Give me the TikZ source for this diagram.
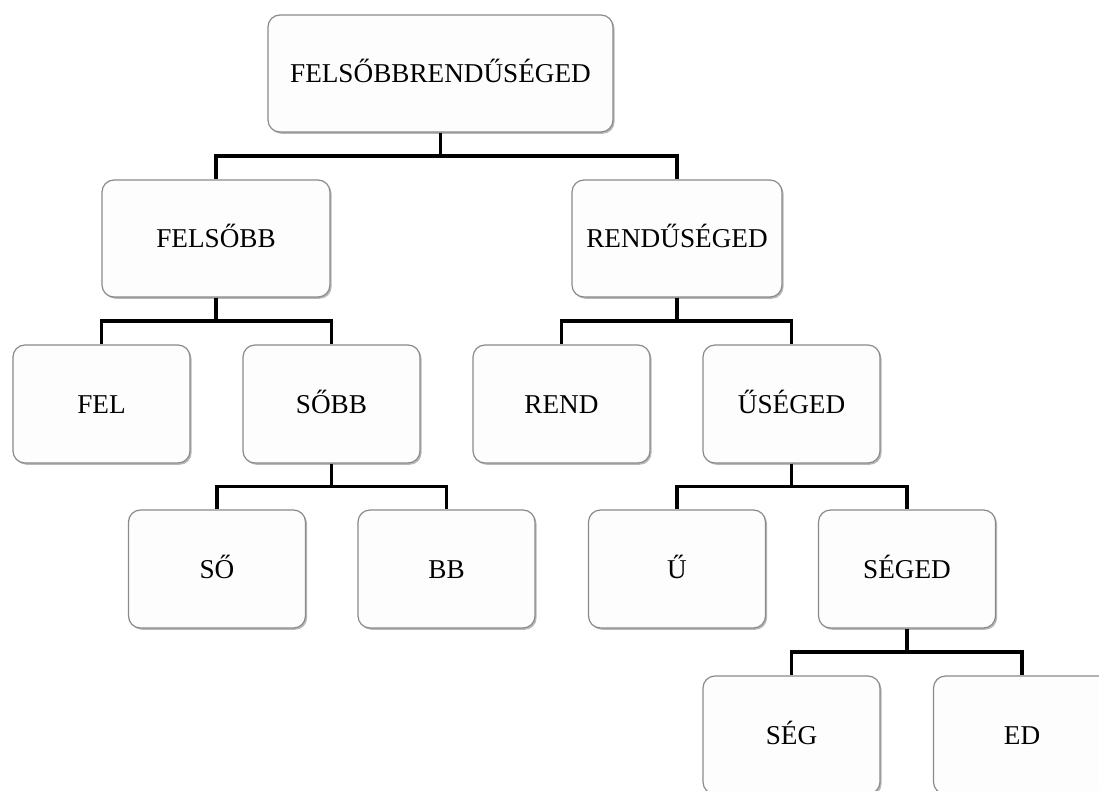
\documentclass[tikz,border=0pt]{standalone}
\usepackage{fontspec}
\setmainfont{Liberation Serif}
\usetikzlibrary{calc,shadows}
\definecolor{boxline}{HTML}{8A8A8A}
\definecolor{boxfill}{HTML}{FDFDFD}
\tikzset{
  word/.style={draw=boxline, line width=1.2pt, fill=boxfill, rounded corners=12pt,
    minimum width=177pt, minimum height=118pt, inner sep=0pt,
    text height=18pt, text depth=0pt,
    font=\fontsize{27.2}{32}\selectfont,
    drop shadow={shadow xshift=1.6pt, shadow yshift=-1.8pt, fill=black, opacity=0.28}},
  conn/.style={draw=black, line width=3.6pt}
}
\newcommand{\branch}[2]{%
  \draw[conn] (#1.south) |- ($(#1.south)!.5!(#2.north)$) -| (#2.north);}
\begin{document}
\begin{tikzpicture}[x=1pt,y=1pt]
\useasboundingbox (0,0) rectangle (1099,-791);
\fill[white] (0,0) rectangle (1099,-791);
\clip (0,0) rectangle (1099,-791);

% level 0
\node[word, minimum width=345pt, minimum height=117pt] (root) at (440.5,-73.5) {FELSŐBBRENDŰSÉGED};
% level 1
\node[word, minimum width=228pt, minimum height=117pt] (felsobb) at (216,-238.5) {FELSŐBB};
\node[word, minimum width=210pt, minimum height=117pt] (renduseged) at (677,-238.5) {RENDŰSÉGED};
% level 2
\node[word] (fel) at (101.5,-404) {FEL};
\node[word] (sobb) at (331.5,-404) {SŐBB};
\node[word] (rend) at (561.5,-404) {REND};
\node[word] (useged) at (791.5,-404) {ŰSÉGED};
% level 3
\node[word] (so) at (217,-569) {SŐ};
\node[word] (bb) at (446.5,-569) {BB};
\node[word] (u) at (677,-569) {Ű};
\node[word] (seged) at (907,-569) {SÉGED};
% level 4
\node[word] (seg) at (791.5,-735) {SÉG};
\node[word] (ed) at (1022,-735) {ED};

% connectors
\branch{root}{felsobb}
\branch{root}{renduseged}
\branch{felsobb}{fel}
\branch{felsobb}{sobb}
\branch{renduseged}{rend}
\branch{renduseged}{useged}
\branch{sobb}{so}
\branch{sobb}{bb}
\branch{useged}{u}
\branch{useged}{seged}
\branch{seged}{seg}
\branch{seged}{ed}
\end{tikzpicture}
\end{document}
